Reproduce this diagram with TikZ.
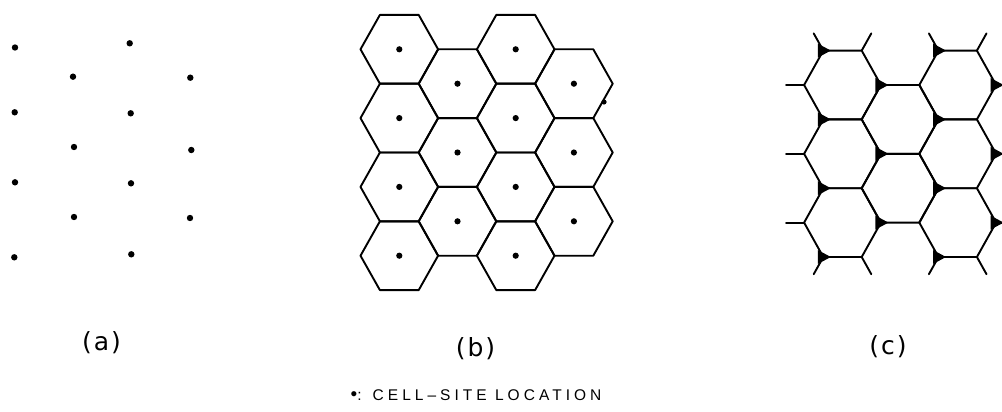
\documentclass[tikz,border=0pt]{standalone}
\usepackage{fontspec}
\setmainfont{DejaVu Sans}
\newfontfamily\legendfont[LetterSpace=26]{Liberation Sans}
\newcommand\mkhex[3]{\draw[hexline] ({#1+#3},#2) -- ({#1+#3/2},{#2+34.4}) -- ({#1-#3/2},{#2+34.4}) -- ({#1-#3},#2) -- ({#1-#3/2},{#2-34.4}) -- ({#1+#3/2},{#2-34.4}) -- cycle;}
\begin{document}
\begin{tikzpicture}[x=1pt,y=-1pt,
  hexline/.style={line width=1.9pt,line join=round,line cap=round},
  stub/.style={line width=1.9pt,line cap=round},
  sitedot/.style={fill=black},
  sitemark/.style={fill=black},
  lbl/.style={font=\fontsize{25}{27}\selectfont,inner sep=0pt},
  legend/.style={font=\legendfont\fontsize{15.5}{17}\selectfont,inner sep=0pt}]
\useasboundingbox (0,0) rectangle (1002,412);
\clip (0,0) rectangle (1002,412);
% ---------- (a) ----------
\foreach \px/\py in {15/47.5,14.7/112.3,15/182.3,14.3/257.3,
                     73/76.7,74/147,74/217,
                     129.7/43.3,130.7/113.3,131/183.3,131.3/254.3,
                     190.3/77.7,191.3/150,190/218}
  \fill[sitedot] (\px,\py) circle[radius=3.2];
% ---------- (b) ----------
\foreach \cx/\cy in {399.3/49.3,399.3/118.1,399.3/186.9,399.3/255.7,
                     457.5/83.7,457.5/152.5,457.5/221.3,
                     515.7/49.3,515.7/118.1,515.7/186.9,515.7/255.7,
                     573.9/83.7,573.9/152.5,573.9/221.3}
{ \mkhex{\cx}{\cy}{38.8}
  \fill[sitedot] (\cx,\cy) circle[radius=3.1]; }
\fill[sitedot] (604,102) circle[radius=2.6];
% ---------- (c) ----------
\foreach \cx/\cy in {842.5/85,842.5/153.8,842.5/222.6,
                     900.1/119.4,900.1/188.2,
                     957.7/85,957.7/153.8,957.7/222.6}
  \mkhex{\cx}{\cy}{38.4};
% stubs
\foreach \sx in {823.3,938.5}
{ \draw[stub] (\sx,50.6) -- ++(-9.6,-17.2);
  \draw[stub] ({\sx+38.4},50.6) -- ++(9.6,-17.2);
  \draw[stub] (\sx,257) -- ++(-9.6,17.2);
  \draw[stub] ({\sx+38.4},257) -- ++(9.6,17.2); }
\foreach \sy in {85,153.8,222.6}
{ \draw[stub] (804.1,\sy) -- ++(-18,0);
  \draw[stub] (996.1,\sy) -- ++(19.2,0); }
% cell sites at corners
\foreach \mx/\my in {823.3/50.6,823.3/119.4,823.3/188.2,823.3/257,
                     880.9/85,880.9/153.8,880.9/222.6,
                     938.5/50.6,938.5/119.4,938.5/188.2,938.5/257,
                     996.1/85,996.1/153.8,996.1/222.6}
  \fill[sitemark] (\mx,\my) ++(-5.5,-7) -- ++(0,14) -- ++(13,-7) -- cycle;
% ---------- labels ----------
\node[lbl] (la) at (101.5,343) {(\kern2pt a\kern2pt)};
\node[lbl] (lb) at (475.5,348.5) {(\kern2pt b\kern2pt)};
\node[lbl] (lc) at (888,347) {(\kern2pt c\kern2pt)};
\node[legend] (leg) at (476,395) {{\fontsize{19}{17}\selectfont •}: CELL–SITE LOCATION};
\end{tikzpicture}
\end{document}
